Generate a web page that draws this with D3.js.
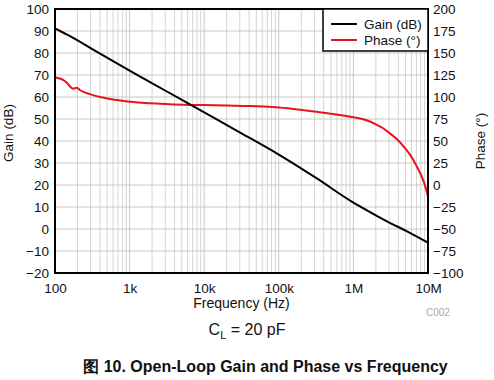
<!DOCTYPE html>
<html><head><meta charset="utf-8">
<script src="https://cdn.jsdelivr.net/npm/d3@7"></script>
<style>body{margin:0;background:#fff;}svg{display:block;font-family:"Liberation Sans",Arial,sans-serif;}</style>
</head><body><svg id="c" width="494" height="380"></svg>
<script>
const gainFreq = [100,130,180,316,1000,3160,10000,31600,100000,316000,1000000,1500000,2000000,3160000,5000000,10000000];
const gainDb   = [91.2,89.2,86.7,81.8,72,62.5,53,43.5,33.8,23.2,12,8.6,6.2,2.6,-0.7,-6.2];
const phaseFreq = [100,115,128,145,159,174,197,215,237,300,401,677,1110,1880,3000,5200,10000,20000,41000,70000,100000,192000,500000,1000000,1500000,2000000,2500000,3000000,4000000,5000000,6000000,7000000,8000000,9000000,10000000];
const phaseDeg  = [122.5,121,119.5,116,112,109.5,110.5,108,106,103,100,96.6,94.3,93,92,91.2,90.8,90.3,89.8,89,88,85.5,81,77,73.5,69,64.5,59.5,50.5,41,32,22,12,1,-13];
const xTickVals = [100,1000,10000,100000,1000000,10000000];
const xTickLabels = ["100","1k","10k","100k","1M","10M"];
const gainTicks = [100,90,80,70,60,50,40,30,20,10,0,-10,-20];
const phaseTicks = [200,175,150,125,100,75,50,25,0,-25,-50,-75,-100];

const svg = d3.select("#c");
const L=55,R=428,T=9,B=273;
const x = d3.scaleLog().domain([100,1e7]).range([L,R]);
const yG = d3.scaleLinear().domain([-20,100]).range([B,T]);
const yP = d3.scaleLinear().domain([-100,200]).range([B,T]);

// minor grid
const minor=[];
for(let d=100;d<1e7;d*=10) for(let k=2;k<=9;k++) minor.push(d*k);
const g = svg.append("g");
g.selectAll(".mn").data(minor).enter().append("line")
  .attr("x1",d=>x(d)).attr("x2",d=>x(d)).attr("y1",T).attr("y2",B)
  .attr("stroke","#d4d4d4").attr("stroke-width",1);
g.selectAll(".mj").data(xTickVals).enter().append("line")
  .attr("x1",d=>x(d)).attr("x2",d=>x(d)).attr("y1",T).attr("y2",B)
  .attr("stroke","#c8c8c8").attr("stroke-width",1);
g.selectAll(".hz").data(gainTicks).enter().append("line")
  .attr("x1",L).attr("x2",R).attr("y1",d=>yG(d)).attr("y2",d=>yG(d))
  .attr("stroke","#c8c8c8").attr("stroke-width",1);

// curves
const lineG = d3.line().x((d,i)=>x(gainFreq[i])).y(d=>yG(d)).curve(d3.curveMonotoneX);
const lineP = d3.line().x((d,i)=>x(phaseFreq[i])).y(d=>yP(d)).curve(d3.curveMonotoneX);
svg.append("path").attr("d",lineP(phaseDeg)).attr("fill","none").attr("stroke","#e8141c").attr("stroke-width",2);
svg.append("path").attr("d",lineG(gainDb)).attr("fill","none").attr("stroke","#000").attr("stroke-width",2);

// border
svg.append("rect").attr("x",L).attr("y",T).attr("width",R-L).attr("height",B-T)
  .attr("fill","none").attr("stroke","#000").attr("stroke-width",2);

// axes
const fs="13.5px";
const ax = d3.axisBottom(x).tickValues(xTickVals).tickFormat((d,i)=>xTickLabels[i]).tickSize(0).tickPadding(10);
const axG = svg.append("g").attr("transform",`translate(0,${B})`).call(ax);
const ayL = d3.axisLeft(yG).tickValues(gainTicks).tickSize(0).tickPadding(6);
const ayLG = svg.append("g").attr("transform",`translate(${L},0)`).call(ayL);
const ayR = d3.axisRight(yP).tickValues(phaseTicks).tickSize(0).tickPadding(5);
const ayRG = svg.append("g").attr("transform",`translate(${R},0)`).call(ayR);
[axG,ayLG,ayRG].forEach(a=>{a.select(".domain").remove();a.selectAll("text").attr("font-size",fs).attr("fill","#111").attr("font-family","Liberation Sans, Arial, sans-serif");});

// legend
const lg = svg.append("g");
lg.append("rect").attr("x",323).attr("y",T).attr("width",R-323).attr("height",42).attr("fill","#fff").attr("stroke","#000").attr("stroke-width",1.5);
const legItems=[{t:"Gain (dB)",c:"#000",y:24},{t:"Phase (°)",c:"#e8141c",y:40}];
legItems.forEach(it=>{
  lg.append("line").attr("x1",331).attr("x2",357).attr("y1",it.y).attr("y2",it.y).attr("stroke",it.c).attr("stroke-width",2);
  lg.append("text").attr("x",364).attr("y",it.y+4.5).attr("font-size","13.5px").attr("fill","#111").text(it.t);
});

// titles
svg.append("text").attr("transform","translate(13,133) rotate(-90)").attr("text-anchor","middle").attr("font-size","13.5px").attr("fill","#111").text("Gain (dB)");
svg.append("text").attr("transform","translate(485,141) rotate(-90)").attr("text-anchor","middle").attr("font-size","13.5px").attr("fill","#111").text("Phase (°)");
svg.append("text").attr("x",241.5).attr("y",308).attr("text-anchor","middle").attr("font-size","14px").attr("fill","#111").text("Frequency (Hz)");
svg.append("text").attr("x",426).attr("y",316).attr("font-size","10px").attr("fill","#aaa").text("C002");
const cl = svg.append("text").attr("x",247).attr("y",335).attr("text-anchor","middle").attr("font-size","16px").attr("fill","#111");
cl.append("tspan").text("C");
cl.append("tspan").attr("font-size","11px").attr("dy",4).text("L");
cl.append("tspan").attr("dy",-4).text(" = 20 pF");
svg.append("text").attr("x",265.5).attr("y",372).attr("text-anchor","middle").attr("font-size","16px").attr("font-weight","bold").attr("fill","#111").text("图 10. Open-Loop Gain and Phase vs Frequency");
</script></body></html>
